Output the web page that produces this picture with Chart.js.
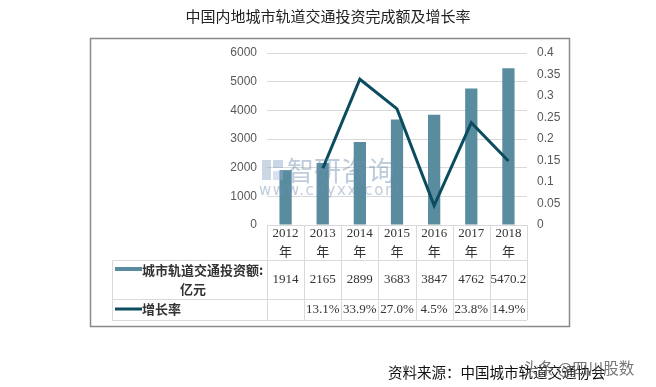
<!DOCTYPE html>
<html>
<head>
<meta charset="utf-8">
<script src="https://cdn.jsdelivr.net/npm/chart.js@4"></script>
<style>
  html, body { margin: 0; padding: 0; background: #fff; }
  body { width: 656px; height: 387px; position: relative; overflow: hidden; font-family: "Noto Sans CJK SC", sans-serif; }
  #wrap { position: absolute; left: 0; top: 0; width: 656px; height: 387px; }
  .txt { position: absolute; white-space: nowrap; }
  #titulo { left: 0; width: 656px; top: 5px; text-align: center; font-size: 15px; color: #222; }
  #fuente { left: 388px; top: 361px; font-size: 14.5px; color: #111; }
  #marca1 { left: 287px; top: 150px; font-size: 27px; color: #6f8fb0; opacity: 0.45; letter-spacing: 0px; }
  #marca2 { left: 259px; top: 181px; font-size: 15px; color: #6f8fb0; opacity: 0.45; letter-spacing: 1.6px; font-family: "DejaVu Sans", sans-serif; }
  .logo { position: absolute; background: #7f9cc0; opacity: 0.4; }
  #marca3 { left: 523px; top: 356px; font-size: 15.5px; color: #555; opacity: 0.8; }
</style>
</head>
<body>
<div id="wrap"><canvas id="grafico" width="656" height="387"></canvas></div>
<div class="txt" id="titulo">中国内地城市轨道交通投资完成额及增长率</div>
<div class="logo" style="left:262px;top:160px;width:9px;height:20px;"></div>
<div class="logo" style="left:273px;top:160px;width:10px;height:8px;"></div>
<div class="logo" style="left:273px;top:171px;width:10px;height:9px;background:#9bb3d6;"></div>
<div class="txt" id="marca1">智研咨询</div>
<div class="txt" id="marca2">www.chyxx.com</div>
<div class="txt" id="fuente">资料来源：中国城市轨道交通协会</div>
<div class="txt" id="marca3">头条 @四川股数</div>
<script>
const anios = ["2012", "2013", "2014", "2015", "2016", "2017", "2018"];
const inversion = [1914, 2165, 2899, 3683, 3847, 4762, 5470.2];
const inversionTexto = ["1914", "2165", "2899", "3683", "3847", "4762", "5470.2"];
const crecimiento = [null, 0.131, 0.339, 0.27, 0.045, 0.238, 0.149];
const crecimientoTexto = ["", "13.1%", "33.9%", "27.0%", "4.5%", "23.8%", "14.9%"];
const serieBarras = "城市轨道交通投资额:";
const serieBarrasUnidad = "亿元";
const serieLinea = "增长率";

const colorBarra = "#5a8ca0";
const colorLinea = "#0c4c5f";
const colorRejilla = "#d9d9d9";

// marco y tabla de datos bajo el eje
const tablaPlugin = {
    id: "tabla",
    beforeDraw(chart) {
        const c = chart.ctx;
        c.save();
        c.strokeStyle = "#8a8a8a";
        c.lineWidth = 1.5;
        c.strokeRect(90.5, 38.5, 479, 288);
        c.restore();
    },
    afterDraw(chart) {
        const c = chart.ctx;
        const x = chart.scales.x;
        const area = chart.chartArea;
        const paso = area.width / anios.length;
        const y0 = area.bottom, y1 = 260, y2 = 299, y3 = 320;
        const izq = 112;
        c.save();
        c.strokeStyle = colorRejilla;
        c.lineWidth = 1;
        c.beginPath();
        // lineas horizontales
        [y1, y2, y3].forEach(y => { c.moveTo(izq, y + 0.5); c.lineTo(area.right, y + 0.5); });
        // verticales de columnas
        for (let i = 0; i <= anios.length; i++) {
            const px = Math.round(area.left + i * paso) + 0.5;
            c.moveTo(px, y0); c.lineTo(px, y3);
        }
        c.moveTo(izq + 0.5, y1); c.lineTo(izq + 0.5, y3);
        c.stroke();

        c.fillStyle = "#333";
        c.textAlign = "center";
        c.textBaseline = "middle";
        anios.forEach((a, i) => {
            const cx = x.getPixelForValue(i);
            c.font = "13px 'Liberation Serif', serif";
            c.fillText(a, cx, 234);
            c.font = "13px 'Noto Sans CJK SC', sans-serif";
            c.fillText("年", cx, 251);
            c.font = "13px 'Liberation Serif', serif";
            c.fillText(inversionTexto[i], cx, 280);
            c.fillText(crecimientoTexto[i], cx, 309.5);
        });

        // leyendas
        c.fillStyle = colorBarra;
        c.fillRect(115, 267, 27, 4);
        c.strokeStyle = colorLinea;
        c.lineWidth = 3;
        c.beginPath();
        c.moveTo(115, 309); c.lineTo(142, 309);
        c.stroke();
        c.fillStyle = "#333";
        c.font = "bold 13px 'Noto Sans CJK SC', sans-serif";
        c.textAlign = "left";
        c.fillText(serieBarras, 142, 270);
        c.textAlign = "center";
        c.fillText(serieBarrasUnidad, 193, 289);
        c.textAlign = "left";
        c.fillText(serieLinea, 142, 309);
        c.restore();
    }
};

new Chart(document.getElementById("grafico"), {
    data: {
        labels: anios,
        datasets: [
            {
                type: "line",
                label: serieLinea,
                data: crecimiento,
                yAxisID: "y1",
                borderColor: colorLinea,
                borderWidth: 3,
                pointRadius: 0,
                tension: 0,
                order: 0
            },
            {
                type: "bar",
                label: serieBarras,
                data: inversion,
                yAxisID: "y",
                backgroundColor: colorBarra,
                categoryPercentage: 1,
                barPercentage: 0.33,
                order: 1
            }
        ]
    },
    options: {
        responsive: false,
        animation: false,
        layout: { padding: { left: 200, right: 69, top: 53, bottom: 162 } },
        plugins: { legend: { display: false }, tooltip: { enabled: false } },
        scales: {
            x: { display: false, offset: true },
            y: {
                position: "left",
                min: 0, max: 6000,
                afterFit(s) { s.width = 67; },
                ticks: { stepSize: 1000, padding: 10, color: "#595959", font: { size: 12, family: "'Liberation Sans', sans-serif" }, callback: v => String(v) },
                grid: { color: colorRejilla, drawTicks: false },
                border: { display: false }
            },
            y1: {
                position: "right",
                min: 0, max: 0.4,
                afterFit(s) { s.width = 60; },
                ticks: { stepSize: 0.05, padding: 10, color: "#595959", font: { size: 12, family: "'Liberation Sans', sans-serif" }, callback: v => String(+v.toFixed(2)) },
                grid: { display: false, drawTicks: false },
                border: { display: false }
            }
        }
    },
    plugins: [tablaPlugin]
});
</script>
</body>
</html>
